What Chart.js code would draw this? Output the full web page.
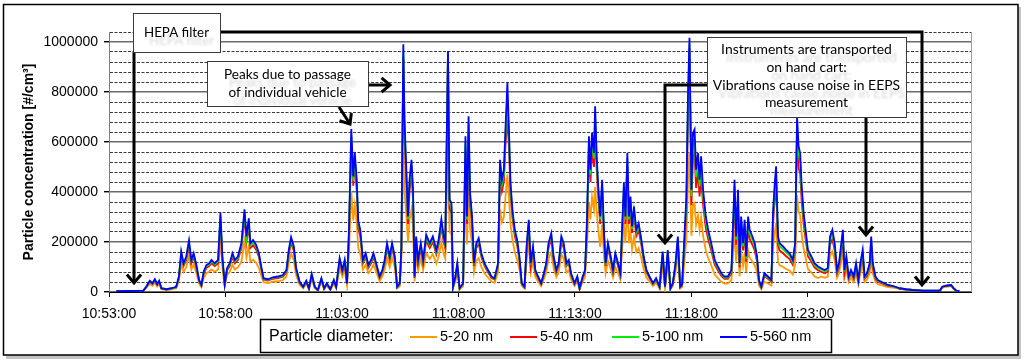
<!DOCTYPE html>
<html>
<head>
<meta charset="utf-8">
<script src="https://cdn.jsdelivr.net/npm/chart.js@4.4.1/dist/chart.umd.min.js"></script>
<style>
html,body{margin:0;padding:0;background:#fff;}
#wrap{width:1024px;height:364px;}
</style>
</head>
<body>
<div id="wrap"><canvas id="chart" width="1024" height="364"></canvas></div>
<script>
// time axis: seconds after 10:53:00
const timeSec = [
  19,53,88,96,105,112,118,124,129,135,148,161,173,180,186,192,199,206,212,218,225,232,238,244,251,258,264,272,281,287,292,298,304,311,318,324,332,341,349,354,360,364,371,379,386,392,398,409,422,435,448,457,463,469,476,482,491,500,508,515,522,530,538,547,554,561,570,579,585,594,601,607,613,618,624,629,633,638,642,647,654,661,668,675,681,688,697,704,710,716,723,729,736,742,
  749,753,758,761,766,770,774,779,783,787,791,796,803,809,817,826,834,843,849,856,862,866,873,877,882,886,892,897,903,912,918,922,926,930,935,940,946,952,959,967,976,985,993,1002,1007,1012,1017,1021,1026,1030,1034,1039,1045,1051,1057,1063,1070,1076,1081,1086,1092,1098,1105,1113,1120,1126,1132,1139,1145,1152,1158,1165,1171,1178,1184,1190,1199,1206,1212,1220,1226,1231,1236,1240,1244,1249,1252,1256,1260,1265,1270,1275,1279,1285,1292,1298,1304,1311,1317,1322,1326,1330,1335,1339,1343,1347,1352,1358,1364,1371,1377,1384,1392,1401,1409,1418,1426,1432,1439,1446,1452,1459,1465,1471,1476,
  1482,1487,1491,1495,1500,1504,1508,1512,1517,1521,1525,1530,1537,1543,1551,1560,1568,1577,1585,1594,1603,1607,1611,1615,1620,1624,1628,1633,1637,1641,1646,1650,1657,1663,1669,1674,1680,1688,1697,1706,1710,1714,1718,1723,1727,1736,1744,1753,1761,1767,1772,1776,1780,1784,1789,1794,1800,1809,1817,1826,1834,1843,1851,1857,1863,1869,1875,1880,1886,1890,1894,1899,1905,1911,1918,1924,1930,1935,1941,1946,1952,1959,1963,1967,1974,1980,1989,1997,2006,2019,2029,2036,2053,2070,2096,2122,2140,2146,2156,2169,2175,2182,2190
];

// particle concentration, thousand #/cm3
const nm20 = [
  2,3,4,17,32,25,36,22,32,11,8,11,15,43,113,81,99,144,90,109,76,34,20,57,76,81,90,81,90,210,99,22,67,81,109,90,99,121,205,138,183,121,129,117,96,66,39,36,41,43,48,62,118,153,127,67,29,15,32,11,50,15,6,39,11,25,8,34,15,95,62,90,25,154,404,286,347,278,175,154,90,109,76,90,109,81,43,62,90,137,99,137,99,15,
  24,124,560,410,300,200,290,330,260,42,151,87,133,87,156,133,151,114,142,198,151,133,600,240,230,14,42,78,10,24,380,190,420,250,190,78,125,135,100,75,58,42,37,78,330,280,300,380,470,380,270,210,160,130,92,24,14,133,196,78,124,60,42,24,51,78,133,160,97,60,78,151,133,78,87,51,24,42,10,42,60,175,360,290,380,330,420,320,250,180,270,140,75,125,92,58,100,75,50,180,280,195,350,195,245,170,220,160,175,135,92,58,42,24,37,14,110,14,114,10,24,78,151,14,20,
  122,210,430,560,225,350,357,269,306,247,299,225,166,137,107,70,56,41,34,34,48,144,247,122,225,63,166,107,159,78,166,137,122,107,78,26,12,41,34,26,174,232,277,122,107,100,92,85,70,107,387,321,306,232,174,137,92,78,63,56,62,57,62,144,162,127,57,75,127,162,57,92,40,57,40,75,31,75,109,40,49,75,144,75,40,31,27,23,20,18,15,12,9,7,4,4,4,18,21,24,13,4,3
];
const nm40 = [
  3,4,5,20,41,32,46,29,41,14,10,14,19,56,146,104,128,185,115,140,97,43,25,74,97,104,115,104,115,290,128,29,86,104,140,115,128,176,300,200,266,176,187,169,140,92,50,46,53,56,61,79,151,197,164,86,37,19,41,14,65,19,7,50,14,32,10,43,19,122,79,115,32,224,600,425,515,405,254,224,115,140,97,115,140,104,56,79,115,176,128,176,128,19,
  32,164,935,621,428,272,404,476,368,56,200,115,176,115,206,176,200,151,188,262,200,176,955,332,320,19,56,104,14,32,561,272,633,356,272,104,176,194,140,104,79,56,50,104,476,404,440,585,690,585,392,296,224,188,128,32,19,176,260,104,164,79,56,32,68,104,176,212,128,79,104,200,176,104,115,68,32,56,14,56,79,260,561,440,572,500,640,489,380,272,404,212,104,176,128,79,140,104,68,248,392,272,500,272,344,236,308,224,248,188,128,79,56,32,50,19,146,19,151,14,32,104,200,19,27,
  189,325,690,975,348,541,553,416,473,382,462,348,257,212,166,109,87,64,53,53,75,223,382,189,348,98,257,166,246,121,257,212,189,166,121,41,18,64,53,41,269,359,428,189,166,155,143,132,109,166,640,496,473,359,269,212,143,121,98,87,81,75,81,189,212,166,75,98,166,212,75,121,53,75,53,98,41,98,143,53,64,98,189,98,53,41,35,30,26,23,18,14,10,8,5,5,5,20,24,27,14,5,4
];
const nm100 = [
  3,4,5,21,43,34,49,31,43,14,11,14,20,60,156,110,136,198,123,149,104,46,27,79,104,110,123,110,123,305,136,31,91,110,149,123,136,187,318,213,283,187,200,180,149,98,53,49,57,60,65,84,161,210,175,91,39,20,43,14,69,20,8,53,14,34,11,46,20,130,84,123,34,239,626,444,537,431,271,239,123,149,104,123,149,110,60,84,123,187,136,187,136,20,
  34,175,960,662,457,290,431,508,393,60,213,123,187,123,220,187,213,161,201,279,213,187,960,354,342,20,60,110,14,34,598,290,675,380,290,110,187,206,149,110,84,60,53,110,508,431,469,624,780,624,419,316,239,201,136,34,20,187,277,110,175,84,60,34,72,110,187,226,136,84,110,213,187,110,123,72,34,60,14,60,84,277,598,469,611,534,713,521,405,290,431,226,110,187,136,84,149,110,72,264,419,290,534,290,367,252,328,239,264,201,136,84,60,34,53,20,156,20,161,14,34,110,213,20,29,
  209,359,736,990,384,598,611,460,523,422,510,384,284,234,183,120,96,71,58,58,83,246,422,209,384,108,284,183,272,133,284,234,209,183,133,45,20,71,58,45,297,397,473,209,183,171,158,146,120,183,661,548,523,397,297,234,158,133,108,96,89,83,89,209,234,183,83,108,183,234,83,133,58,83,58,108,45,108,158,58,71,108,209,108,58,45,39,33,27,23,18,15,11,8,5,5,5,21,25,28,15,5,4
];
const nm560 = [
  3,4,5,21,45,35,51,32,45,15,11,15,21,62,162,115,142,206,128,155,108,48,28,82,108,115,128,115,128,318,142,32,95,115,155,128,142,195,331,222,295,195,208,188,155,102,55,51,59,62,68,88,168,219,182,95,41,21,45,15,72,21,8,55,15,35,11,48,21,135,88,128,35,249,652,462,559,449,282,249,128,155,108,128,155,115,62,88,128,195,142,195,142,21,
  35,182,991,690,476,302,449,529,409,62,222,128,195,128,229,195,222,168,209,291,222,195,964,369,356,21,62,115,15,35,623,302,703,396,302,115,195,215,155,115,88,62,55,115,529,449,489,650,837,650,436,329,249,209,142,35,21,195,289,115,182,88,62,35,75,115,195,235,142,88,115,222,195,115,128,75,35,62,15,62,88,289,623,489,636,556,743,543,422,302,449,235,115,195,142,88,155,115,75,275,436,302,556,302,382,262,342,249,275,209,142,88,62,35,55,21,162,21,168,15,35,115,222,21,30,
  222,382,783,1017,409,636,650,489,556,449,543,409,302,249,195,128,102,75,62,62,88,262,449,222,409,115,302,195,289,142,302,249,222,195,142,48,21,75,62,48,316,422,503,222,195,182,168,155,128,195,703,583,556,422,316,249,168,142,115,102,95,88,95,222,249,195,88,115,195,249,88,142,62,88,62,115,48,115,168,62,75,115,222,115,62,48,41,35,28,24,19,15,11,8,5,5,5,21,25,28,15,5,4
];

const seriesLabels = ['5-20 nm', '5-40 nm', '5-100 nm', '5-560 nm'];
const seriesColors = ['#ff9900', '#ff0000', '#00ee00', '#0000ff'];
const startClock = 10 * 3600 + 53 * 60;   // 10:53:00
const xMax = 2220;                        // 11:30:00
const xStep = 300;                        // 5 min labels
const yMax = 1040000;
const yStep = 40000;
const yMajor = 200000;

const AXIS_FONT = 'Liberation Sans, Arial, sans-serif';
const NOTE_FONT = 'Lato, Carlito, sans-serif';

const fmtClock = s => {
  const t = startClock + s;
  const h = Math.floor(t / 3600), m = Math.floor(t % 3600 / 60), sec = t % 60;
  return h + ':' + String(m).padStart(2, '0') + ':' + String(sec).padStart(2, '0');
};
const isMajor = c => c.tick && c.tick.value % yMajor === 0;

const values = [nm20, nm40, nm100, nm560];
const datasets = values.map((arr, i) => ({
  label: seriesLabels[i],
  data: timeSec.map((t, j) => ({ x: t, y: arr[j] * 1000 })),
  borderColor: seriesColors[i],
  backgroundColor: seriesColors[i],
  borderWidth: 1.8,
  pointRadius: 0,
  tension: 0,
  order: values.length - 1 - i   // 5-560 nm drawn on top
}));

// helpers for the drawn overlay
function arrow(ctx, pts) {
  ctx.save();
  ctx.strokeStyle = '#000'; ctx.lineWidth = 3; ctx.lineJoin = 'miter'; ctx.lineCap = 'butt';
  ctx.beginPath();
  ctx.moveTo(pts[0][0], pts[0][1]);
  for (let i = 1; i < pts.length; i++) ctx.lineTo(pts[i][0], pts[i][1]);
  ctx.stroke();
  const [x1, y1] = pts[pts.length - 2], [x2, y2] = pts[pts.length - 1];
  const a = Math.atan2(y2 - y1, x2 - x1), L = 11, w = 0.7;
  ctx.beginPath();
  ctx.moveTo(x2 - L * Math.cos(a - w), y2 - L * Math.sin(a - w));
  ctx.lineTo(x2, y2);
  ctx.lineTo(x2 - L * Math.cos(a + w), y2 - L * Math.sin(a + w));
  ctx.stroke();
  ctx.restore();
}

function noteBox(ctx, box, lines, ys, fitWidth) {
  const [x, y, w, h] = box;
  ctx.save();
  ctx.fillStyle = '#fff'; ctx.fillRect(x, y, w, h);
  ctx.strokeStyle = '#3a3a3a'; ctx.lineWidth = 1; ctx.strokeRect(x + 0.5, y + 0.5, w, h);
  ctx.font = '15px ' + NOTE_FONT;
  const size = 15 * fitWidth / ctx.measureText(lines[0]).width;
  ctx.font = size.toFixed(2) + 'px ' + NOTE_FONT;
  ctx.textAlign = 'center'; ctx.textBaseline = 'middle';
  const cx = x + w / 2;
  ctx.save();
  ctx.filter = 'blur(1.3px)';
  ctx.fillStyle = 'rgba(0,0,0,0.16)';
  lines.forEach((s, i) => ctx.fillText(s, cx + 5, ys[i] + 8));
  ctx.restore();
  ctx.fillStyle = '#000';
  lines.forEach((s, i) => ctx.fillText(s, cx, ys[i]));
  ctx.restore();
}

const framePlugin = {
  id: 'frame',
  beforeDraw(chart) {
    const ctx = chart.ctx;
    ctx.save();
    ctx.fillStyle = '#fff'; ctx.fillRect(0, 0, chart.width, chart.height);
    ctx.fillStyle = '#c4c4c4'; ctx.fillRect(6, 7, 1015, 352);
    ctx.fillStyle = '#fff'; ctx.fillRect(3, 4, 1015, 351);
    ctx.strokeStyle = '#000'; ctx.lineWidth = 1.5; ctx.strokeRect(3.5, 4.5, 1014.5, 350.5);
    ctx.restore();
  },
  beforeDatasetsDraw(chart) {
    const { ctx, chartArea: a } = chart;
    ctx.save();
    ctx.strokeStyle = '#a0a0a0'; ctx.lineWidth = 1;
    ctx.beginPath(); ctx.moveTo(a.right + 0.5, a.top); ctx.lineTo(a.right + 0.5, a.bottom); ctx.stroke();
    ctx.restore();
  }
};

const overlayPlugin = {
  id: 'overlay',
  afterDraw(chart) {
    const ctx = chart.ctx;
    // connector arrows
    arrow(ctx, [[134, 52], [134, 283]]);
    arrow(ctx, [[220, 32], [922, 32], [922, 285]]);
    arrow(ctx, [[368, 85], [390, 85]]);
    arrow(ctx, [[339, 107], [350, 124]]);
    arrow(ctx, [[707, 85], [665, 85], [665, 243]]);
    arrow(ctx, [[866, 117], [866, 235]]);
    // text boxes
    noteBox(ctx, [133, 13, 87, 39], ['HEPA filter'], [33], 65);
    noteBox(ctx, [207, 61, 161, 45], ['Peaks due to passage', 'of individual vehicle'], [75, 93], 127);
    noteBox(ctx, [707, 37, 199, 80],
      ['Instruments are transported', 'on hand cart:', 'Vibrations cause noise in EEPS', 'measurement'],
      [50, 68, 86, 103], 171);

    // legend
    ctx.save();
    ctx.fillStyle = '#fff'; ctx.fillRect(260, 319, 571, 33);
    ctx.strokeStyle = '#000'; ctx.lineWidth = 1.5; ctx.strokeRect(260.5, 319.5, 571, 33);
    ctx.fillStyle = '#000'; ctx.textBaseline = 'middle'; ctx.textAlign = 'left';
    ctx.font = '16px ' + AXIS_FONT;
    ctx.fillText('Particle diameter:', 269, 337);
    ctx.font = '14.5px ' + AXIS_FONT;
    const legendX = [410, 510, 612, 720];
    chart.data.datasets.forEach((d, i) => {
      ctx.strokeStyle = d.borderColor; ctx.lineWidth = 2;
      ctx.beginPath(); ctx.moveTo(legendX[i], 337); ctx.lineTo(legendX[i] + 27, 337); ctx.stroke();
      ctx.fillStyle = '#000';
      ctx.fillText(d.label, legendX[i] + 30, 337);
    });
    ctx.restore();
  }
};

new Chart(document.getElementById('chart'), {
  type: 'line',
  data: { datasets },
  options: {
    responsive: false,
    animation: false,
    devicePixelRatio: 1,
    layout: { padding: { left: 0, top: 32, right: 53, bottom: 42 } },
    plugins: { legend: { display: false }, tooltip: { enabled: false } },
    scales: {
      x: {
        type: 'linear', min: 0, max: xMax,
        afterBuildTicks: s => { s.ticks = s.ticks.filter(t => t.value % xStep === 0); },
        afterFit: s => { s.height = 30; },
        ticks: {
          stepSize: xStep, autoSkip: false, maxRotation: 0, padding: 9,
          callback: v => fmtClock(v),
          color: '#000', font: { family: AXIS_FONT, size: 14 }
        },
        grid: { drawOnChartArea: false, tickLength: 5, tickColor: '#000', tickWidth: 1 },
        border: { color: '#000', width: 1 }
      },
      y: {
        min: 0, max: yMax,
        afterFit: s => { s.width = 109; },
        ticks: {
          stepSize: yStep, autoSkip: false, padding: 6,
          callback: v => (v % yMajor === 0 ? String(v) : ''),
          color: '#000', font: { family: AXIS_FONT, size: 14 }
        },
        grid: {
          color: c => (isMajor(c) ? '#6a6a6a' : '#3a3a3a'),
          lineWidth: c => (isMajor(c) ? 1.4 : 1),
          tickLength: 5,
          tickColor: c => (isMajor(c) ? '#000' : 'rgba(0,0,0,0)')
        },
        border: {
          color: '#808080', width: 1,
          dash: c => (c.tick && c.tick.value % yMajor !== 0 ? [3, 1.5] : [])
        },
        title: {
          display: true, text: 'Particle concentration [#/cm³]', color: '#000',
          font: { family: AXIS_FONT, size: 14, weight: 'bold' },
          padding: { top: 21, bottom: 0 }
        }
      }
    }
  },
  plugins: [framePlugin, overlayPlugin]
});
</script>
</body>
</html>
